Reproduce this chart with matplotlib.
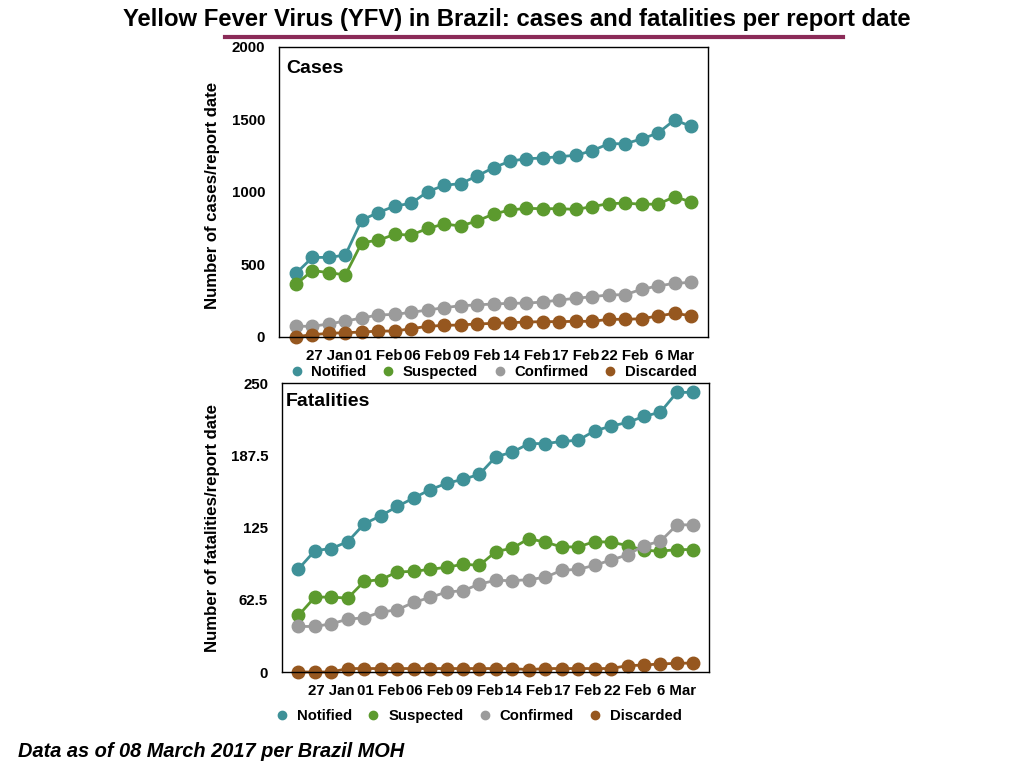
import numpy as np
import matplotlib.pyplot as plt
from matplotlib.lines import Line2D

plt.rcParams['font.family'] = ['Liberation Sans', 'DejaVu Sans']
plt.rcParams['font.weight'] = 'bold'

# report dates (25 reports); labels shown on every 3rd report
n_reports = 25
tick_idx = [2, 5, 8, 11, 14, 17, 20, 23]
tick_labels = ['27 Jan', '01 Feb', '06 Feb', '09 Feb', '14 Feb', '17 Feb', '22 Feb', '6 Mar']

# cases per report date
cases_notified = [439, 549, 549, 565, 807, 858, 903, 922, 1002, 1046, 1058, 1110, 1168,
                  1212, 1230, 1234, 1244, 1253, 1285, 1333, 1333, 1366, 1407, 1497, 1453]
cases_suspected = [363, 458, 444, 428, 651, 667, 708, 703, 749, 779, 766, 800, 848,
                   876, 887, 885, 885, 880, 899, 920, 923, 916, 916, 968, 931]
cases_confirmed = [74, 74, 90, 110, 131, 152, 156, 170, 186, 202, 216, 221, 228,
                   232, 234, 241, 255, 267, 278, 290, 292, 329, 352, 370, 377]
cases_discarded = [2, 16, 25, 30, 34, 41, 41, 57, 74, 80, 83, 90, 94,
                   99, 103, 106, 106, 108, 108, 122, 122, 126, 145, 163, 147]

# fatalities per report date
fat_notified = [89.1, 105, 106.8, 112.8, 128.2, 135.1, 143.2, 150.5, 157.7, 163.2, 166.7, 171,
                186.3, 190.1, 197.6, 197.6, 199.4, 200.5, 208.6, 212.7, 215.9, 221.1, 224.8, 241.9, 241.9]
fat_suspected = [48.9, 64.8, 64.8, 63.9, 78.4, 79.9, 86.5, 87.1, 88.8, 90.6, 93.2, 92.3,
                 104.2, 107.1, 115.4, 112.3, 108.2, 108.2, 112.8, 112.3, 109.4, 105.3, 104.5, 105.9, 105.9]
fat_confirmed = [39.4, 39.4, 41.7, 45.7, 46.9, 51.8, 53.8, 60.2, 64.5, 69.2, 70.3, 76.1,
                 79.3, 79.0, 79.9, 81.9, 88.0, 88.8, 92.3, 96.9, 101.3, 109.4, 113.1, 127.3, 127.3]
fat_discarded = [0, 0, 0, 3, 3, 3, 3, 3, 3, 3, 3, 3, 3, 3, 2, 3, 3, 3, 3, 3, 5.5, 6, 7, 7.5, 7.8]

series_names = ['Notified', 'Suspected', 'Confirmed', 'Discarded']
colors = ['#3f9198', '#5c9a2e', '#9b9b9b', '#96571f']

fig = plt.figure(figsize=(10.24, 7.68), dpi=100)
fig.patch.set_facecolor('white')

fig.text(0.505, 0.975, 'Yellow Fever Virus (YFV) in Brazil: cases and fatalities per report date',
         ha='center', va='center', fontsize=17.2, fontweight='bold')
fig.add_artist(Line2D([225 / 1024, 843 / 1024], [1 - 37 / 768, 1 - 37 / 768],
                      color='#8b2b58', lw=3, transform=fig.transFigure))
fig.text(0.018, 0.021, 'Data as of 08 March 2017 per Brazil MOH', ha='left', va='center',
         fontsize=14.4, fontweight='bold', fontstyle='italic')

ax1 = fig.add_axes([279 / 1024, 1 - 337 / 768, 429 / 1024, 290 / 768])
ax2 = fig.add_axes([282 / 1024, 1 - 672 / 768, 427 / 1024, 289 / 768])

x = np.arange(n_reports)
panels = [
    (ax1, [cases_notified, cases_suspected, cases_confirmed, cases_discarded],
     'Cases', (0.016, 0.956), 'Number of cases/report date', (-0.1375, 0.488),
     2000, [0, 500, 1000, 1500, 2000], ['0', '500', '1000', '1500', '2000'],
     (-1.03, 25.03), (0.4815, 1 - 372 / 768)),
    (ax2, [fat_notified, fat_suspected, fat_confirmed, fat_discarded],
     'Fatalities', (0.009, 0.966), 'Number of fatalities/report date', (-0.145, 0.5),
     250, [0, 62.5, 125, 187.5, 250], ['0', '62.5', '125', '187.5', '250'],
     (-1.0, 24.95), (0.467, 1 - 716 / 768)),
]

for ax, data, title, tpos, ylabel, lpos, ymax, yt, ytl, xl, lanchor in panels:
    for vals, c, name in zip(data, colors, series_names):
        ax.plot(x, vals, color=c, lw=2, marker='o', markersize=9, clip_on=False, label=name)
    ax.set_xlim(*xl)
    ax.set_ylim(0, ymax)
    ax.set_yticks(yt)
    ax.set_yticklabels(ytl)
    ax.set_xticks(tick_idx)
    ax.set_xticklabels(tick_labels)
    ax.tick_params(axis='both', length=0, labelsize=10.8)
    ax.tick_params(axis='y', pad=10)
    ax.tick_params(axis='x', pad=8.5)
    for sp in ax.spines.values():
        sp.set_linewidth(1)
    ax.text(tpos[0], tpos[1], title, transform=ax.transAxes, ha='left', va='top',
            fontsize=14, fontweight='bold')
    ax.set_ylabel(ylabel, fontsize=12.1, fontweight='bold')
    ax.yaxis.set_label_coords(*lpos)
    handles = [Line2D([], [], color=c, marker='o', markersize=6, lw=0) for c in colors]
    ax.legend(handles, series_names, loc='center', ncol=4, frameon=False,
              bbox_to_anchor=lanchor, bbox_transform=fig.transFigure,
              fontsize=10.7, handlelength=1.0, handletextpad=0.5, columnspacing=0.95)

fig.savefig('out.png', dpi=100)
